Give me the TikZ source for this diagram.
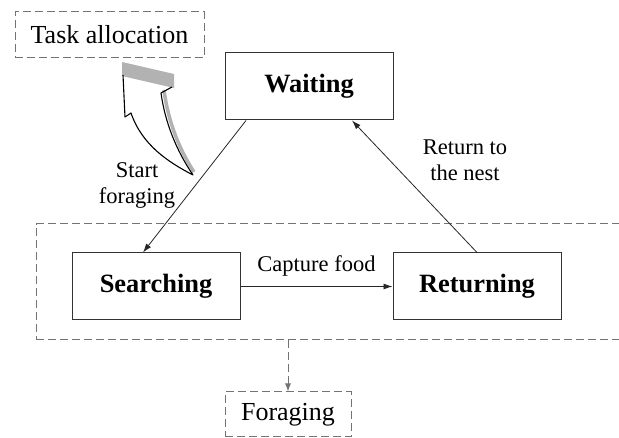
\documentclass[tikz,border=0pt]{standalone}
\usepackage{fontspec}
\setmainfont{Liberation Serif}
\usetikzlibrary{arrows.meta}
\tikzset{
  state/.style={draw=black!80, line width=1pt, minimum width=168pt, minimum height=67pt,
    inner sep=0pt, font=\fontsize{26.4}{30}\selectfont\bfseries},
  stage/.style={draw=black!55, dash pattern=on 8pt off 4pt, line width=1pt,
    inner sep=0pt, font=\fontsize{26}{30}\selectfont},
  trans/.style={-{Latex[length=9pt,width=6pt]}, line width=0.8pt, black!85},
  lbl/.style={font=\fontsize{22.5}{26}\selectfont, align=center, inner sep=0pt},
}
\begin{document}
\begin{tikzpicture}[x=1pt,y=-1pt]
  \useasboundingbox (0,0) rectangle (619,438);
  % states
  \node[state] (wait) at (309,86.5) {Waiting};
  \node[state] (search) at (156,286.5) {Searching};
  \node[state] (return) at (477,286.5) {Returning};
  % stages
  \node[stage, minimum width=189pt, minimum height=46pt] (task) at (109.5,35) {Task allocation};
  \node[stage, minimum width=600pt, minimum height=115.5pt] (region) at (336,281.75) {};
  \node[stage, minimum width=126pt, minimum height=45pt] (forage) at (288,414.5) {Foraging};
  % labels
  \node[lbl] (startlbl) at (137,185) {Start\\foraging};
  \node[lbl] (capturelbl) at (316.5,266) {Capture food};
  \node[lbl] (returnlbl) at (465,160) {Return to\\the nest};
  % transitions
  \draw[trans] ([xshift=-63pt]wait.south) -- ([xshift=-13pt]search.north);
  \draw[trans] (search.east) -- (return.west);
  \draw[trans] (return.north) -- ([xshift=43pt]wait.south);
  \draw[stage, -{Latex[length=8pt,width=6pt]}] (region.south -| forage.north) -- (forage.north);
  % block arrow
  \fill[black!30] (122,62) -- (174,74) -- (174,88) -- (122,76) -- cycle;
  \draw[black!30, line width=3.5pt] (164,90) .. controls (168,121) and (179,149) .. (194,172);
  \draw[line width=1.1pt, line join=round] (172,87) -- (161,93)
    .. controls (165,122) and (176,150) .. (193,175)
    .. controls (168,162) and (142,145) .. (131,113)
    -- (125,117) -- (123,75);
\end{tikzpicture}
\end{document}
